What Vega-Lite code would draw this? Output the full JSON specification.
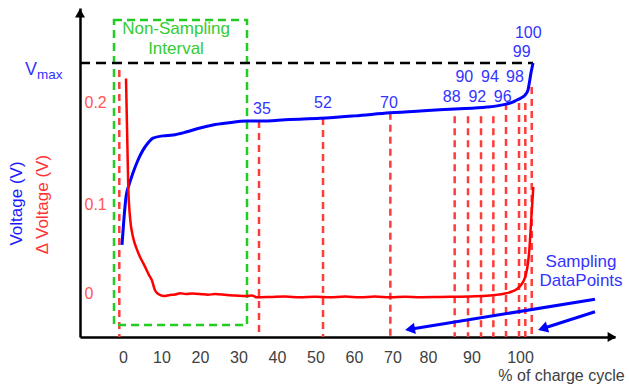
{
  "$schema": "https://vega.github.io/schema/vega-lite/v6.json",
  "width": 535,
  "height": 329,
  "autosize": {"type": "none"},
  "padding": {"left": 80, "top": 8, "right": 14, "bottom": 51},
  "background": "white",
  "config": {
    "view": {"stroke": null},
    "font": "Liberation Sans",
    "axis": {"grid": false, "labelFont": "Liberation Sans", "titleFont": "Liberation Sans", "titleFontWeight": "normal"},
    "text": {"font": "Liberation Sans"}
  },
  "datasets": {
    "voltage": [
      {"x": -0.26, "v": 0.336}, {"x": 0.26, "v": 0.434}, {"x": 0.78, "v": 0.511}, {"x": 1.56, "v": 0.555},
      {"x": 2.6, "v": 0.599}, {"x": 3.9, "v": 0.646}, {"x": 5.19, "v": 0.682}, {"x": 6.49, "v": 0.708},
      {"x": 7.79, "v": 0.726}, {"x": 10.39, "v": 0.734}, {"x": 12.99, "v": 0.737}, {"x": 16.36, "v": 0.748},
      {"x": 20.0, "v": 0.763}, {"x": 23.38, "v": 0.774}, {"x": 27.01, "v": 0.781}, {"x": 32.21, "v": 0.788},
      {"x": 35.32, "v": 0.788}, {"x": 43.38, "v": 0.794}, {"x": 51.17, "v": 0.798}, {"x": 60.26, "v": 0.807},
      {"x": 69.35, "v": 0.818}, {"x": 77.14, "v": 0.825}, {"x": 86.23, "v": 0.832}, {"x": 94.55, "v": 0.839},
      {"x": 99.48, "v": 0.85}, {"x": 101.04, "v": 0.856}, {"x": 102.34, "v": 0.865}, {"x": 103.38, "v": 0.872},
      {"x": 104.42, "v": 0.883}, {"x": 105.19, "v": 0.901}, {"x": 105.45, "v": 0.92}, {"x": 105.71, "v": 0.942},
      {"x": 105.97, "v": 0.964}, {"x": 106.23, "v": 0.982}, {"x": 106.49, "v": 1.0}
    ],
    "delta": [
      {"x": 0.78, "dv": 0.228}, {"x": 1.38, "dv": 0.111}, {"x": 1.82, "dv": 0.082}, {"x": 2.6, "dv": 0.061},
      {"x": 3.51, "dv": 0.049}, {"x": 4.42, "dv": 0.04}, {"x": 5.32, "dv": 0.033}, {"x": 6.16, "dv": 0.026},
      {"x": 6.75, "dv": 0.021}, {"x": 7.45, "dv": 0.016}, {"x": 8.31, "dv": 0.005}, {"x": 9.17, "dv": 0.001},
      {"x": 10.47, "dv": -0.001}, {"x": 12.21, "dv": 0.0}, {"x": 13.51, "dv": 0.0005}, {"x": 14.81, "dv": 0.0018},
      {"x": 16.36, "dv": 0.0011}, {"x": 17.92, "dv": 0.0016}, {"x": 20.0, "dv": 0.0011}, {"x": 22.08, "dv": 0.0002},
      {"x": 23.9, "dv": 0.0011}, {"x": 26.94, "dv": 0.0}, {"x": 29.09, "dv": -0.0005}, {"x": 32.13, "dv": -0.0011},
      {"x": 33.5, "dv": -0.0005}, {"x": 34.73, "dv": -0.0024}, {"x": 38.18, "dv": -0.0021}, {"x": 42.08, "dv": -0.0016},
      {"x": 45.97, "dv": -0.0024}, {"x": 49.87, "dv": -0.0019}, {"x": 53.77, "dv": -0.0024}, {"x": 57.66, "dv": -0.0017},
      {"x": 61.56, "dv": -0.0023}, {"x": 65.45, "dv": -0.0017}, {"x": 69.35, "dv": -0.0023}, {"x": 73.25, "dv": -0.0018},
      {"x": 77.14, "dv": -0.0023}, {"x": 82.34, "dv": -0.0021}, {"x": 86.23, "dv": -0.0019}, {"x": 90.13, "dv": -0.0017},
      {"x": 93.25, "dv": -0.0011}, {"x": 96.62, "dv": 0.0}, {"x": 99.22, "dv": 0.0016}, {"x": 101.04, "dv": 0.0037},
      {"x": 102.34, "dv": 0.0063}, {"x": 103.38, "dv": 0.0105}, {"x": 104.16, "dv": 0.0158}, {"x": 104.68, "dv": 0.0221},
      {"x": 105.19, "dv": 0.0337}, {"x": 105.58, "dv": 0.0495}, {"x": 105.84, "dv": 0.0663}, {"x": 106.1, "dv": 0.0842},
      {"x": 106.36, "dv": 0.1}, {"x": 106.57, "dv": 0.1137}
    ],
    "samples": [
      {"pct": 0, "x": -0.96, "top": 0.974, "bottom": 0},
      {"pct": 35, "x": 35.32, "top": 0.788, "bottom": 0},
      {"pct": 52, "x": 51.95, "top": 0.799, "bottom": 0},
      {"pct": 70, "x": 69.44, "top": 0.818, "bottom": 0},
      {"pct": 88, "x": 86.15, "top": 0.806, "bottom": 0},
      {"pct": 90, "x": 89.61, "top": 0.806, "bottom": 0},
      {"pct": 92, "x": 92.99, "top": 0.806, "bottom": 0},
      {"pct": 94, "x": 96.19, "top": 0.806, "bottom": 0},
      {"pct": 96, "x": 99.48, "top": 0.854, "bottom": 0},
      {"pct": 98, "x": 102.86, "top": 0.854, "bottom": 0},
      {"pct": 99, "x": 104.5, "top": 0.854, "bottom": 0},
      {"pct": 100, "x": 106.16, "top": 0.912, "bottom": 0}
    ],
    "labels": [
      {"label": "35", "x": 36.1, "v": 0.832},
      {"label": "52", "x": 51.95, "v": 0.854},
      {"label": "70", "x": 69.09, "v": 0.855},
      {"label": "88", "x": 85.38, "v": 0.877},
      {"label": "92", "x": 92.03, "v": 0.877},
      {"label": "96", "x": 98.62, "v": 0.877},
      {"label": "90", "x": 88.65, "v": 0.948},
      {"label": "94", "x": 95.32, "v": 0.948},
      {"label": "98", "x": 101.82, "v": 0.948},
      {"label": "99", "x": 103.56, "v": 1.041},
      {"label": "100", "x": 105.27, "v": 1.111}
    ],
    "vmax": [{"x": -11.169, "x2": 106.5, "v": 1.0}],
    "window": [{"x": -2.34, "x2": 32.21, "v": 1.157, "v2": 0.0438}],
    "windowText": [
      {"text": "Non-Sampling", "x": 13.77, "v": 1.124},
      {"text": "Interval", "x": 13.77, "v": 1.051}
    ],
    "samplingText": [
      {"text": "Sampling", "x": 118.96, "v": 0.274},
      {"text": "DataPoints", "x": 118.96, "v": 0.204}
    ],
    "arrows": [
      {"id": 1, "x": 122.6, "v": 0.1376, "x2": 74.55, "v2": 0.0285},
      {"id": 2, "x": 122.6, "v": 0.0923, "x2": 109.04, "v2": 0.031}
    ],
    "vmaxV": [{"text": "V", "x": -23.9, "v": 0.956}],
    "vmaxSub": [{"text": "max", "x": -22.34, "v": 0.942}],
    "yArrow": [{"x": -11.169, "v": 1.182}],
    "xArrow": [{"x": 127.0, "v": 0}]
  },
  "layer": [
    {
      "layer": [
        {
          "data": {"name": "samples"},
          "mark": {"type": "rule", "color": "#ff3b3b", "strokeWidth": 2.5, "strokeDash": [7, 5]},
          "encoding": {
            "x": {
              "field": "x", "type": "quantitative",
              "scale": {"domain": [-11.169, 127.792], "nice": false, "zero": false},
              "axis": {
                "values": [0, 10, 20, 30, 40, 50, 60, 70, 80, 90, 100],
                "domain": true, "domainColor": "black", "domainWidth": 2.5,
                "ticks": false,
                "labelFontSize": 16, "labelColor": "#404040", "labelPadding": 12,
                "labelOffset": {"condition": [{"test": "datum.value == 100", "value": 12}, {"test": "datum.value == 90", "value": 2}, {"test": "datum.value == 80", "value": -3}], "value": 0},
                "title": "% of charge cycle", "titleFontSize": 16, "titleColor": "#404040",
                "titleX": 481, "titleY": 38, "titleAlign": "center", "titleBaseline": "middle"
              }
            },
            "y": {
              "field": "top", "type": "quantitative",
              "scale": {"domain": [0, 1.2007], "nice": false, "zero": false},
              "axis": {
                "orient": "left", "domain": true, "domainColor": "black", "domainWidth": 2.5,
                "ticks": false, "labels": false,
                "title": "Voltage (V)", "titleColor": "#1a1aff", "titleFontSize": 17,
                "titleX": -64, "titleY": 195, "titleAngle": -90, "titleAlign": "center", "titleBaseline": "middle"
              }
            },
            "y2": {"field": "bottom"}
          }
        },
        {
          "data": {"name": "window"},
          "mark": {"type": "rect", "filled": false, "stroke": "#22cc22", "strokeWidth": 2.5, "strokeDash": [8, 5]},
          "encoding": {
            "x": {"field": "x", "type": "quantitative", "scale": {"domain": [-11.169, 127.792], "nice": false, "zero": false}},
            "x2": {"field": "x2"},
            "y": {"field": "v", "type": "quantitative", "scale": {"domain": [0, 1.2007], "nice": false, "zero": false}},
            "y2": {"field": "v2"}
          }
        },
        {
          "data": {"name": "vmax"},
          "mark": {"type": "rule", "color": "black", "strokeWidth": 2.5, "strokeDash": [10, 6]},
          "encoding": {
            "x": {"field": "x", "type": "quantitative", "scale": {"domain": [-11.169, 127.792], "nice": false, "zero": false}},
            "x2": {"field": "x2"},
            "y": {"field": "v", "type": "quantitative", "scale": {"domain": [0, 1.2007], "nice": false, "zero": false}}
          }
        },
        {
          "data": {"name": "voltage"},
          "mark": {"type": "line", "color": "#0000ff", "strokeWidth": 3, "interpolate": "monotone"},
          "encoding": {
            "x": {"field": "x", "type": "quantitative", "scale": {"domain": [-11.169, 127.792], "nice": false, "zero": false}},
            "y": {"field": "v", "type": "quantitative", "scale": {"domain": [0, 1.2007], "nice": false, "zero": false}}
          }
        },
        {
          "data": {"name": "labels"},
          "mark": {"type": "text", "color": "#3333ff", "fontSize": 16, "align": "center", "baseline": "middle"},
          "encoding": {
            "x": {"field": "x", "type": "quantitative", "scale": {"domain": [-11.169, 127.792], "nice": false, "zero": false}},
            "y": {"field": "v", "type": "quantitative", "scale": {"domain": [0, 1.2007], "nice": false, "zero": false}},
            "text": {"field": "label"}
          }
        },
        {
          "data": {"name": "windowText"},
          "mark": {"type": "text", "color": "#33cc33", "fontSize": 17, "align": "center", "baseline": "middle"},
          "encoding": {
            "x": {"field": "x", "type": "quantitative", "scale": {"domain": [-11.169, 127.792], "nice": false, "zero": false}},
            "y": {"field": "v", "type": "quantitative", "scale": {"domain": [0, 1.2007], "nice": false, "zero": false}},
            "text": {"field": "text"}
          }
        },
        {
          "data": {"name": "samplingText"},
          "mark": {"type": "text", "color": "#3333ff", "fontSize": 17, "align": "center", "baseline": "middle"},
          "encoding": {
            "x": {"field": "x", "type": "quantitative", "scale": {"domain": [-11.169, 127.792], "nice": false, "zero": false}},
            "y": {"field": "v", "type": "quantitative", "scale": {"domain": [0, 1.2007], "nice": false, "zero": false}},
            "text": {"field": "text"}
          }
        },
        {
          "data": {"name": "arrows"},
          "mark": {"type": "rule", "color": "#0000ff", "strokeWidth": 3},
          "encoding": {
            "x": {"field": "x", "type": "quantitative", "scale": {"domain": [-11.169, 127.792], "nice": false, "zero": false}},
            "y": {"field": "v", "type": "quantitative", "scale": {"domain": [0, 1.2007], "nice": false, "zero": false}},
            "x2": {"field": "x2"},
            "y2": {"field": "v2"}
          }
        },
        {
          "data": {"name": "arrows"},
          "transform": [{"filter": "datum.id == 1"}],
          "mark": {"type": "point", "shape": "triangle-left", "filled": true, "color": "#0000ff", "size": 130, "angle": -9.3, "opacity": 1},
          "encoding": {
            "x": {"field": "x2", "type": "quantitative", "scale": {"domain": [-11.169, 127.792], "nice": false, "zero": false}},
            "y": {"field": "v2", "type": "quantitative", "scale": {"domain": [0, 1.2007], "nice": false, "zero": false}}
          }
        },
        {
          "data": {"name": "arrows"},
          "transform": [{"filter": "datum.id == 2"}],
          "mark": {"type": "point", "shape": "triangle-left", "filled": true, "color": "#0000ff", "size": 130, "angle": -17.5, "opacity": 1},
          "encoding": {
            "x": {"field": "x2", "type": "quantitative", "scale": {"domain": [-11.169, 127.792], "nice": false, "zero": false}},
            "y": {"field": "v2", "type": "quantitative", "scale": {"domain": [0, 1.2007], "nice": false, "zero": false}}
          }
        },
        {
          "data": {"name": "vmaxV"},
          "mark": {"type": "text", "color": "#3333ff", "fontSize": 18, "align": "center", "baseline": "alphabetic"},
          "encoding": {
            "x": {"field": "x", "type": "quantitative", "scale": {"domain": [-11.169, 127.792], "nice": false, "zero": false}},
            "y": {"field": "v", "type": "quantitative", "scale": {"domain": [0, 1.2007], "nice": false, "zero": false}},
            "text": {"field": "text"}
          }
        },
        {
          "data": {"name": "vmaxSub"},
          "mark": {"type": "text", "color": "#3333ff", "fontSize": 13.5, "align": "left", "baseline": "alphabetic"},
          "encoding": {
            "x": {"field": "x", "type": "quantitative", "scale": {"domain": [-11.169, 127.792], "nice": false, "zero": false}},
            "y": {"field": "v", "type": "quantitative", "scale": {"domain": [0, 1.2007], "nice": false, "zero": false}},
            "text": {"field": "text"}
          }
        },
        {
          "data": {"name": "yArrow"},
          "mark": {"type": "point", "shape": "triangle-up", "filled": true, "color": "black", "size": 100, "opacity": 1},
          "encoding": {
            "x": {"field": "x", "type": "quantitative", "scale": {"domain": [-11.169, 127.792], "nice": false, "zero": false}},
            "y": {"field": "v", "type": "quantitative", "scale": {"domain": [0, 1.2007], "nice": false, "zero": false}}
          }
        },
        {
          "data": {"name": "xArrow"},
          "mark": {"type": "point", "shape": "triangle-right", "filled": true, "color": "black", "size": 100, "opacity": 1},
          "encoding": {
            "x": {"field": "x", "type": "quantitative", "scale": {"domain": [-11.169, 127.792], "nice": false, "zero": false}},
            "y": {"field": "v", "type": "quantitative", "scale": {"domain": [0, 1.2007], "nice": false, "zero": false}}
          }
        }
      ]
    },
    {
      "data": {"name": "delta"},
      "mark": {"type": "line", "color": "#ff0000", "strokeWidth": 2.5, "interpolate": "monotone"},
      "encoding": {
        "x": {"field": "x", "type": "quantitative", "scale": {"domain": [-11.169, 127.792], "nice": false, "zero": false}},
        "y": {
          "field": "dv", "type": "quantitative",
          "scale": {"domain": [-0.0442, 0.3021], "nice": false, "zero": false},
          "axis": {
            "orient": "left", "domain": false, "ticks": false,
            "values": [0, 0.1, 0.2], "format": "~g",
            "labelAlign": "left", "labelBaseline": "middle", "labelPadding": -4,
            "labelOffset": {"condition": [{"test": "datum.value == 0.1", "value": 4}, {"test": "datum.value == 0", "value": -2}], "value": -2},
            "labelColor": "#ff5555", "labelFontSize": 16,
            "title": "Δ Voltage (V)", "titleColor": "#ff3333", "titleFontSize": 17,
            "titleX": -38, "titleY": 196, "titleAngle": -90, "titleAlign": "center", "titleBaseline": "middle"
          }
        }
      }
    }
  ],
  "resolve": {"scale": {"y": "independent"}, "axis": {"y": "independent"}}
}
